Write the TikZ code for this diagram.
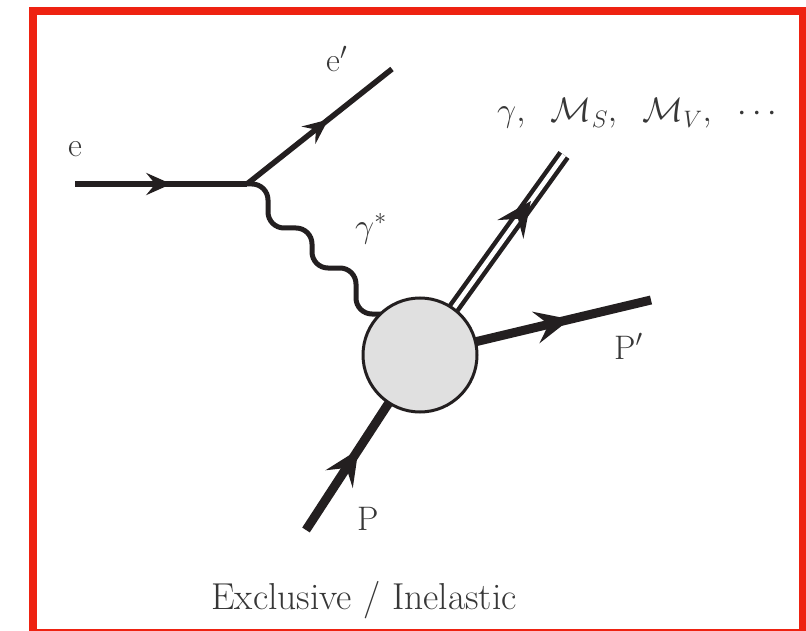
\documentclass[tikz,border=0pt]{standalone}
\usepackage{fix-cm}
\usepackage{fontspec}
\usetikzlibrary{arrows.meta,decorations.markings}
\definecolor{FrameRed}{RGB}{238,34,17}
\definecolor{LineBlack}{RGB}{35,31,32}
\definecolor{BlobGray}{RGB}{224,224,224}
\definecolor{LabelGray}{RGB}{55,55,55}

\begin{document}
\begin{tikzpicture}[x=1pt, y=-1pt, every node/.style={font=\fontsize{34}{40}\selectfont, text=LabelGray, inner sep=0pt},
  smalltip/.style={postaction={decorate, decoration={markings, mark=at position #1 with {\arrow{Stealth[length=25pt, width=22pt, inset=9pt]}}}}},
  bigtip/.style={postaction={decorate, decoration={markings, mark=at position #1 with {\arrow{Stealth[length=35pt, width=32pt, inset=13pt]}}}}}]
  \useasboundingbox (0,0) rectangle (806,631);
  \draw[FrameRed, line width=8pt] (33,11) rectangle (803,633);
  % vertices and free ends
  \coordinate (ein) at (75,184);
  \coordinate (vtx) at (247,184);
  \coordinate (eout) at (392,69);
  \coordinate (blobc) at (420,355);
  \coordinate (gend) at (395,314);
  \coordinate (mout) at (564,155);
  \coordinate (pout) at (651,300);
  \coordinate (pin) at (306,530);
  % lepton line and photon
  \draw[line width=5.5pt, LineBlack, smalltip=0.56] (ein) -- (vtx);
  \draw[line width=5.5pt, LineBlack, smalltip=0.56] (vtx) -- (eout);
  \draw[line width=5pt, LineBlack, rounded corners=16pt] (vtx) -| (268,228) -| (312,268) -| (356,314) -- (gend);
  % hadron side
  \draw[line width=4.5pt, LineBlack, double=white, double distance=4.5pt] (blobc) -- (mout);
  \path[LineBlack, line width=2pt, bigtip=0.77] (blobc) -- (mout);
  \draw[line width=9pt, LineBlack, bigtip=0.65] (blobc) -- (pout);
  \draw[line width=9pt, LineBlack, bigtip=0.46] (pin) -- (blobc);
  \node[circle, draw=LineBlack, line width=3pt, fill=BlobGray, minimum size=114pt] (blob) at (blobc) {};
  % labels
  \node[anchor=base] (elab) at (75,157) {e};
  \node[anchor=base west] (eplab) at (326,72) {$\mathrm{e}'$};
  \node[anchor=base west] (gslab) at (355,237) {$\gamma^*$};
  \node[anchor=base west] (finlab) at (497,122) {$\gamma,\;\ \mathcal{M}_S,\;\ \mathcal{M}_V,\;\ \cdots$};
  \node[anchor=base west] (pplab) at (614,359) {$\mathrm{P}'$};
  \node[anchor=base west] (plab) at (357,530) {P};
  \node[anchor=base, font=\fontsize{37.5}{44}\selectfont] (title) at (364,609) {Exclusive / Inelastic};
\end{tikzpicture}
\end{document}
